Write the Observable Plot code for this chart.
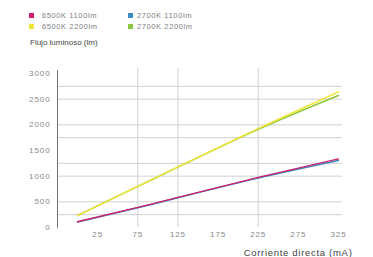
<!DOCTYPE html>
<html>
<head>
<meta charset="utf-8">
<script src="https://cdn.jsdelivr.net/npm/d3@7"></script>
<script src="https://cdn.jsdelivr.net/npm/@observablehq/plot@0.6"></script>
<style>
  html, body { margin: 0; padding: 0; background: #fff; }
  #wrap { position: relative; width: 373px; height: 257px; font-family: "Liberation Sans", Arial, sans-serif; overflow: hidden; }
  .leg { position: absolute; font-size: 7.5px; color: #808080; letter-spacing: 0.6px; white-space: nowrap; line-height: 1; }
  .sw { position: absolute; width: 5px; height: 5px; }
  #ytitle { position: absolute; left: 30px; top: 39px; font-size: 8px; color: #444; white-space: nowrap; line-height: 1; }
  #chart { position: absolute; left: 0; top: 55px; }
  #chart g[aria-label="y-axis tick label"] text { letter-spacing: 0.9px; }
  #chart g[aria-label="x-axis tick label"] text { letter-spacing: 0.9px; }
  #chart g[aria-label="text"] text { letter-spacing: 0.7px; }
</style>
</head>
<body>
<div id="wrap">
  <div id="legend"></div>
  <div id="ytitle">Flujo luminoso (lm)</div>
  <div id="chart"></div>
</div>
<script>
// Data
const current = [0, 75, 125, 225, 325]; // mA
const series = ["6500K 1100lm", "2700K 1100lm", "6500K 2200lm", "2700K 2200lm"];
const colors = ["#cc1f6e", "#3a8dc1", "#f2e53a", "#8cc63f"];
const lm6500_1100 = [112, 392, 588, 975, 1338];
const lm2700_1100 = [108, 386, 580, 962, 1305];
const lm6500_2200 = [230, 800, 1180, 1925, 2640];
const lm2700_2200 = [236, 800, 1176, 1912, 2572];
const yTicks = [0, 500, 1000, 1500, 2000, 2500, 3000];
const xTicks = [25, 75, 125, 175, 225, 275, 325];
const yGrid = [250, 500, 1000, 1250, 1750, 2000, 2500, 2750];
const xGrid = [75, 125, 225];
const xDomain = [-25, 330];
const yDomain = [0, 3000];

// Legend (HTML, above the SVG)
const legend = document.getElementById("legend");
const legPos = [[29, 13, 42], [128, 13, 137], [29, 24, 42], [128, 24, 137]];
series.forEach((s, i) => {
  const [sx, sy, tx] = legPos[i];
  const sw = document.createElement("div");
  sw.className = "sw"; sw.style.left = sx + "px"; sw.style.top = sy + "px"; sw.style.background = colors[i];
  legend.appendChild(sw);
  const t = document.createElement("div");
  t.className = "leg"; t.style.left = tx + "px"; t.style.top = (sy - 1) + "px"; t.textContent = s;
  legend.appendChild(t);
});

const make = (ys, name) => current.map((c, i) => ({x: c, y: ys[i], s: name}));
const dM = make(lm6500_1100, series[0]);
const dB = make(lm2700_1100, series[1]);
const dY = make(lm6500_2200, series[2]);
const dG = make(lm2700_2200, series[3]);

const chart = Plot.plot({
  width: 373,
  height: 202,
  marginLeft: 57,
  marginRight: 31,
  marginTop: 18,
  marginBottom: 30,
  style: {fontFamily: "Liberation Sans, Arial, sans-serif", background: "transparent"},
  x: {domain: xDomain},
  y: {domain: yDomain},
  marks: [
    Plot.ruleY(yGrid, {x1: xDomain[0], x2: xDomain[1], stroke: "#d0d0d0", strokeWidth: 1}),
    Plot.ruleX(xGrid, {y1: 0, y2: 3100, stroke: "#d0d0d0", strokeWidth: 1}),
    Plot.ruleX([xDomain[0]], {y1: -25, y2: 3060, stroke: "#777", strokeWidth: 1}),
    Plot.axisY({ticks: yTicks, tickFormat: d => String(d), tickSize: 0, tickPadding: 7, label: null, fill: "#888", fontSize: 8}),
    Plot.axisX({ticks: xTicks, tickFormat: d => String(d), tickSize: 0, tickPadding: 4, label: null, fill: "#888", fontSize: 8}),
    Plot.line(dG, {x: "x", y: "y", stroke: colors[3], strokeWidth: 1.5, curve: "natural"}),
    Plot.line(dY, {x: "x", y: "y", stroke: colors[2], strokeWidth: 1.5, curve: "natural"}),
    Plot.line(dB, {x: "x", y: "y", stroke: colors[1], strokeWidth: 1.5, curve: "natural"}),
    Plot.line(dM, {x: "x", y: "y", stroke: colors[0], strokeWidth: 1.3, curve: "natural"}),
    Plot.text(["Corriente directa (mA)"], {frameAnchor: "bottom-right", textAnchor: "end", lineAnchor: "middle", dx: 10, dy: 25, fill: "#444", fontSize: 9.5})
  ]
});
document.getElementById("chart").appendChild(chart);
</script>
</body>
</html>
